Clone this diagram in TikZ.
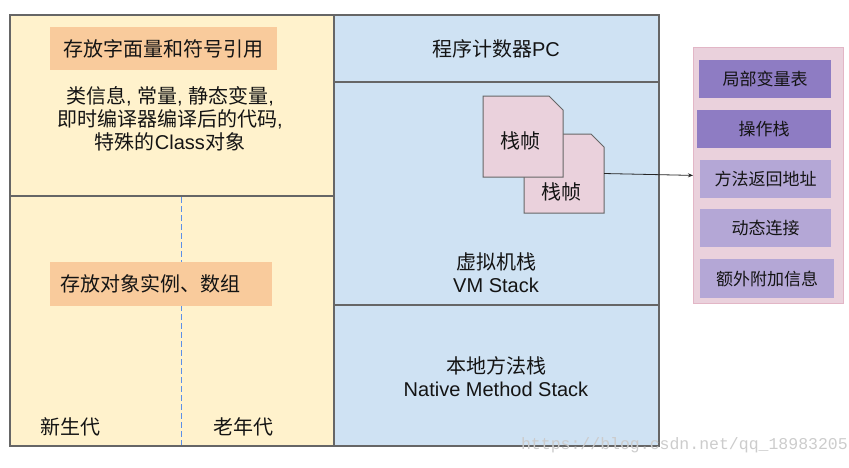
\documentclass[tikz,border=0pt]{standalone}
\usepackage{fontspec}
\setmainfont{Liberation Sans}
\newfontfamily\cjk{Noto Sans CJK SC}
\newfontfamily\wmfont{Liberation Mono}
\usetikzlibrary{arrows.meta}
\definecolor{ybg}{HTML}{FFF2CC}
\definecolor{bbg}{HTML}{CFE2F3}
\definecolor{obox}{HTML}{F9CB9C}
\definecolor{framepink}{HTML}{EAD1DC}
\definecolor{pborder}{HTML}{E2B6C6}
\definecolor{pdark}{HTML}{8E7CC3}
\definecolor{plight}{HTML}{B4A7D6}
\definecolor{dashblue}{HTML}{5B8FE8}
\definecolor{edgegray}{HTML}{666666}
\begin{document}
\begin{tikzpicture}[x=1pt,y=-1pt,
  panel/.style={draw=edgegray, line width=1.2pt, inner sep=0pt, outer sep=0pt, anchor=north west},
  txt/.style={font=\fontsize{20}{23}\selectfont, text=black!92, align=center, inner sep=0pt},
  smalltxt/.style={font=\fontsize{17}{20}\selectfont, text=black!92, align=center},
  obx/.style={fill=obox, inner sep=0pt, anchor=north west},
  pbx/.style={inner sep=0pt, anchor=north west, minimum width=132pt, minimum height=38pt, smalltxt},
  cardst/.style={fill=framepink, draw=edgegray, line width=1pt},
  ghost/.style={inner sep=0pt, outer sep=0pt, anchor=north west}
]
\useasboundingbox (0,0) rectangle (849,467);

% left panel
\node[panel, fill=ybg, minimum width=324pt, minimum height=181pt] (method) at (10,15) {};
\node[panel, fill=ybg, minimum width=324pt, minimum height=250pt] (heap) at (10,196) {};
\coordinate (dtop) at (181,197);
\coordinate (dbot) at (181,445);
\draw[dashblue, line width=1pt, dash pattern=on 6pt off 3pt] (dtop) -- (dbot);

\node[obx, minimum width=227pt, minimum height=43pt, txt] (lit) at (50,27) {\cjk 存放字面量和符号引用};
\node[txt] (desc) at (170,119) {{\cjk 类信息}, {\cjk 常量}, {\cjk 静态变量},\\{\cjk 即时编译器编译后的代码},\\{\cjk 特殊的}Class{\cjk 对象}};
\node[obx, minimum width=222pt, minimum height=44pt, text width=202pt, inner xsep=10pt, align=left, font=\fontsize{20}{23}\selectfont, text=black!92] (obj) at (50,262) {\cjk 存放对象实例、数组};
\node[txt] (young) at (70,427) {\cjk 新生代};
\node[txt] (old) at (243,427) {\cjk 老年代};

% middle panel
\node[panel, fill=bbg, minimum width=325pt, minimum height=67pt] (pc) at (334,15) {};
\node[panel, fill=bbg, minimum width=325pt, minimum height=223pt] (vms) at (334,82) {};
\node[panel, fill=bbg, minimum width=325pt, minimum height=141pt] (nms) at (334,305) {};
\node[txt] (pct) at (496,49) {{\cjk 程序计数器}PC};
\node[txt] (vmst) at (496,273) {{\cjk 虚拟机栈}\\VM Stack};
\node[txt] (nmst) at (496,377) {{\cjk 本地方法栈}\\Native Method Stack};

% stack frames (back one first)
\filldraw[cardst] (524,134) -- (591,134) -- (604,147) -- (604,213) -- (524,213) -- cycle;
\node[ghost, minimum width=80pt, minimum height=79pt] (f2) at (524,134) {};
\node[txt] (f2t) at (561,192) {\cjk 栈帧};
\filldraw[cardst] (483,96) -- (549,96) -- (563,110) -- (563,177) -- (483,177) -- cycle;
\node[ghost, minimum width=80pt, minimum height=81pt] (f1) at (483,96) {};
\node[txt] (f1t) at (520,141) {\cjk 栈帧};

% right panel
\node[fill=framepink, draw=pborder, line width=0.8pt, inner sep=0pt, anchor=north west, minimum width=150pt, minimum height=256pt] (rp) at (693,47) {};
\node[pbx, fill=pdark] (lv) at (699,60) {\cjk 局部变量表};
\node[pbx, fill=pdark, minimum width=134pt] (ops) at (697,110) {\cjk 操作栈};
\node[pbx, fill=plight, minimum width=131pt] (ret) at (700,160) {\cjk 方法返回地址};
\node[pbx, fill=plight, minimum width=131pt] (dyn) at (700,209) {\cjk 动态连接};
\node[pbx, fill=plight, minimum width=134pt, minimum height=39pt] (ext) at (700,259) {\cjk 额外附加信息};

\draw[-{Stealth[length=5pt,width=4pt]}, line width=0.8pt, black!85] (f2.east) -- (rp.west);

% watermark
\node[inner sep=0pt, anchor=base east, text=black!20, font=\wmfont\fontsize{16.5}{18}\selectfont] (wm) at (848,449) {https://blog.csdn.net/qq\_18983205};
\end{tikzpicture}
\end{document}
